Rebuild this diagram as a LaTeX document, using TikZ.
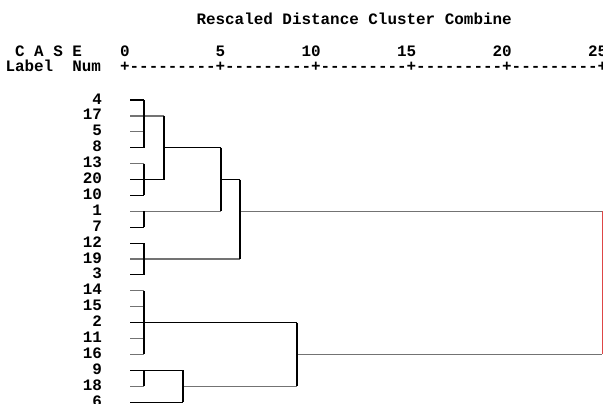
\documentclass[tikz,border=0pt]{standalone}
\usepackage{fontspec}
\newfontfamily\dmono{Liberation Mono}
\definecolor{lnred}{RGB}{222,70,70}
\begin{document}
\begin{tikzpicture}[x=1pt,y=-1pt,
  txt/.style={font=\dmono\bfseries\fontsize{15.92}{16}\selectfont, inner sep=0pt, outer sep=0pt, anchor=base west},
  num/.style={txt, anchor=base east},
  hk/.style={line width=1.1pt, black},
  hg/.style={line width=1.3pt, black!55},
  vk/.style={line width=1.5pt, black},
  vr/.style={line width=1.5pt, lnred}]
\useasboundingbox[fill=white] (0,0) rectangle (603,404);

% headings (one character column = 9.55pt)
\node[txt] (title) at (196.5,25) {Rescaled Distance Cluster Combine};
\node[txt] (case)  at (15.05,57) {C A S E};
\node[txt] (lab)   at (5.5,72)   {Label};
\node[txt] (numh)  at (72.35,72) {Num};
\node[txt] (t0)  at (120.1,57)  {0};
\node[txt] (t5)  at (215.6,57)  {5};
\node[txt] (t10) at (301.55,57) {10};
\node[txt] (t15) at (397.05,57) {15};
\node[txt] (t20) at (492.55,57) {20};
\node[txt] (t25) at (588.05,57) {25};
\node[txt] (axis) at (120.1,72) {+\foreach \k in {1,...,5}{\foreach \j in {1,...,9}{-\kern0pt}+\kern0pt}};

% case numbers and the start of each leaf line
\foreach \n [count=\i from 0] in {4,17,5,8,13,20,10,1,7,12,19,3,14,15,2,11,16,9,18,6} {
  \node[num] (n\n) at (102,{104+15.9*\i}) {\n};
  \coordinate (s\n) at (130,{100+15.9*\i});
}

% x positions of the joins
\coordinate (xa) at (144,0);
\coordinate (xb) at (164,0);
\coordinate (xc) at (221,0);
\coordinate (xd) at (240,0);
\coordinate (xf) at (183,0);
\coordinate (xg) at (297,0);
\coordinate (xh) at (602.3,0);

% leaf lines
\foreach \n in {4,8,10,7,12,3} \draw[hk] (s\n) -- (s\n -| xa);
\foreach \n in {5,13,14,15,11,16,18} \draw[hg] (s\n) -- (s\n -| xa);
\draw[hg] (s17) -- (s17 -| xb);
\draw[hk] (s20) -- (s20 -| xb);
\draw[hg] (s1)  -- (s1 -| xc);
\draw[hg] (s19) -- (s19 -| xd);
\draw[hk] (s2)  -- (s2 -| xg);
\draw[hk] (s9)  -- (s9 -| xf);
\draw[hk] (s6)  -- (s6 -| xf);

% joining horizontals
\draw[hk] (s8 -| xb)  -- (s8 -| xc);
\draw[hk] (s20 -| xc) -- (s20 -| xd);
\draw[hg] (s1 -| xd)  -- (s1 -| xh);
\draw[hg] (s18 -| xf) -- (s18 -| xg);
\draw[hg] (s16 -| xg) -- (s16 -| xh);

% verticals
\draw[vk] (s4 -| xa)  -- (s8 -| xa);
\draw[vk] (s13 -| xa) -- (s10 -| xa);
\draw[vk] (s1 -| xa)  -- (s7 -| xa);
\draw[vk] (s12 -| xa) -- (s3 -| xa);
\draw[vk] (s14 -| xa) -- (s16 -| xa);
\draw[vk] (s9 -| xa)  -- (s18 -| xa);
\draw[vk] (s17 -| xb) -- (s20 -| xb);
\draw[vk] (s8 -| xc)  -- (s1 -| xc);
\draw[vk] (s20 -| xd) -- (s19 -| xd);
\draw[vk] (s9 -| xf)  -- (s6 -| xf);
\draw[vk] (s2 -| xg)  -- (s18 -| xg);
\draw[vr] (s1 -| xh)  -- (s16 -| xh);
\end{tikzpicture}
\end{document}
